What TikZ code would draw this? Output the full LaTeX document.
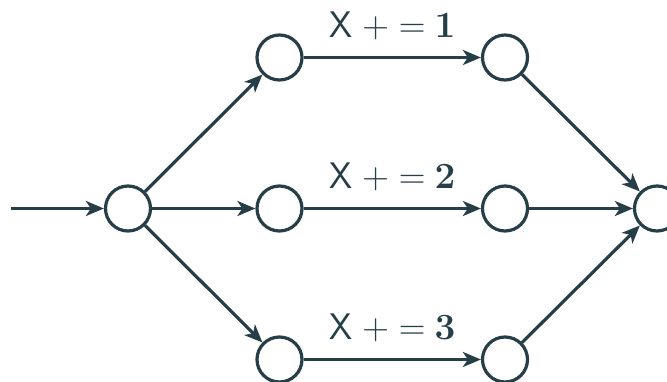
\RequirePackage{fix-cm}
\documentclass[tikz,border=0pt]{standalone}
\usepackage{amsmath}
\usepackage{amssymb}
\usetikzlibrary{arrows.meta}
\definecolor{slate}{RGB}{38,62,72}
\tikzset{
    state_node/.style = {
        draw=slate,
        circle,
        line width=3.2pt,
        minimum size=45pt,
        inner sep=0pt
    },
    main_line/.style = {
        draw=slate,
        line width=3.2pt,
        -{Stealth[length=18pt,width=15pt,inset=5pt]}
    },
    step_label/.style = {
        text=slate,
        font=\fontsize{37}{44}\selectfont,
        anchor=base,
        yshift=20pt,
        inner sep=0pt
    },
}
\newcommand{\incstep}[1]{$\mathsf{X}\hspace{10pt}{+}\hspace{10pt}{=}\hspace{9pt}\mathbf{#1}$}

\begin{document}
\begin{tikzpicture}[x=1pt,y=-1pt]
                \useasboundingbox (0,0) rectangle (667,382);

                \coordinate (in) at (11, 208.5);
                \node[state_node] (s) at (128, 208.5) {};
                \node[state_node] (a1) at (279.5, 57.5) {};
                \node[state_node] (a2) at (279.5, 208.5) {};
                \node[state_node] (a3) at (279.5, 359.5) {};
                \node[state_node] (b1) at (505, 57.5) {};
                \node[state_node] (b2) at (505, 208.5) {};
                \node[state_node] (b3) at (505, 359.5) {};
                \node[state_node] (t) at (657, 208.5) {};

                \path[main_line] (in) -- (s);
                \path[main_line] (s) -- (a1);
                \path[main_line] (s) -- (a2);
                \path[main_line] (s) -- (a3);

                \path[main_line] (a1) -- node[step_label] {\incstep{1}} (b1);
                \path[main_line] (a2) -- node[step_label] {\incstep{2}} (b2);
                \path[main_line] (a3) -- node[step_label] {\incstep{3}} (b3);

                \path[main_line] (b1) -- (t);
                \path[main_line] (b2) -- (t);
                \path[main_line] (b3) -- (t);
            \end{tikzpicture}
\end{document}
